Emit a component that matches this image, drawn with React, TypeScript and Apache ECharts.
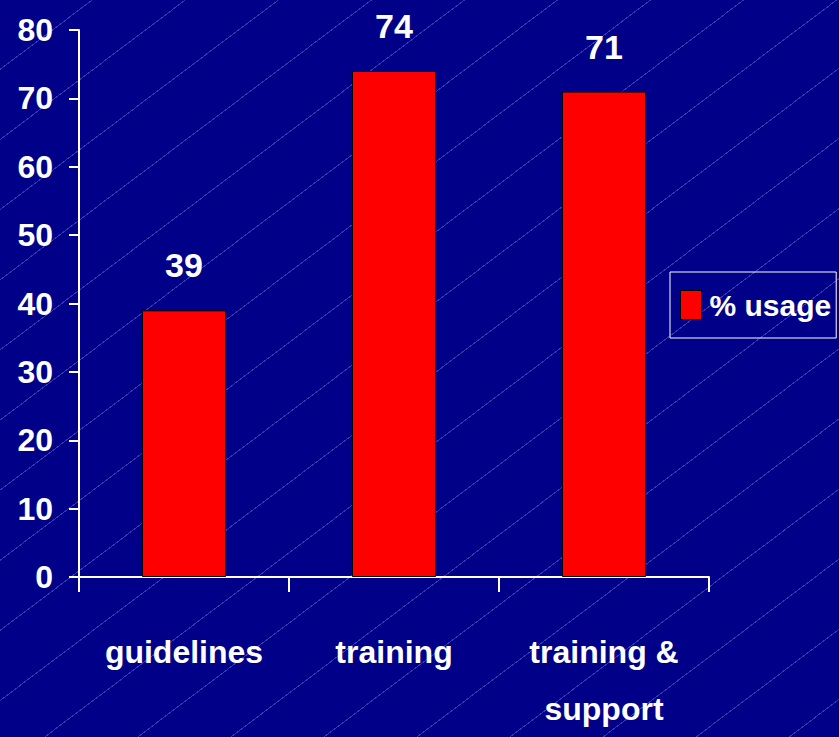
import React, { useEffect, useRef } from "react";
import * as echarts from "echarts";

const categories = ["guidelines", "training", "training &\nsupport"];
const usageValues = [39, 74, 71];
const seriesName = "% usage";
const yTicks = { min: 0, max: 80, interval: 10 };

const FONT = '"Liberation Sans", Arial, sans-serif';

export default function App() {
  const ref = useRef<HTMLDivElement>(null);
  useEffect(() => {
    if (!ref.current) return;
    const chart = echarts.init(ref.current, undefined, { renderer: "svg" });
    chart.setOption({
      animation: false,
      backgroundColor: "transparent",
      grid: { left: 79, right: 130, top: 30, bottom: 155, containLabel: false },
      legend: {
        show: true,
        data: [seriesName],
        left: 670,
        top: 272,
        orient: "vertical",
        borderColor: "#ffffff",
        borderWidth: 1,
        padding: [16, 5, 16, 10],
        itemWidth: 21,
        itemHeight: 29,
        icon: "rect",
        itemStyle: { color: "#ff0000", borderColor: "#000000", borderWidth: 1 },
        textStyle: {
          color: "#ffffff",
          fontFamily: FONT,
          fontWeight: "bold",
          fontSize: 30,
          lineHeight: 34,
          padding: [0, 0, 0, 3],
        },
      },
      xAxis: {
        type: "category",
        data: categories,
        boundaryGap: true,
        axisLine: { show: true, lineStyle: { color: "#ffffff", width: 2 } },
        axisTick: { show: true, alignWithLabel: false, length: 15, lineStyle: { color: "#ffffff", width: 2 } },
        axisLabel: {
          color: "#ffffff",
          fontFamily: FONT,
          fontWeight: "bold",
          fontSize: 32,
          lineHeight: 57,
          margin: 46,
          interval: 0,
        },
        splitLine: { show: false },
      },
      yAxis: {
        type: "value",
        min: yTicks.min,
        max: yTicks.max,
        interval: yTicks.interval,
        axisLine: { show: true, lineStyle: { color: "#ffffff", width: 2 } },
        axisTick: { show: true, length: 10, lineStyle: { color: "#ffffff", width: 2 } },
        axisLabel: {
          color: "#ffffff",
          fontFamily: FONT,
          fontWeight: "bold",
          fontSize: 32,
          margin: 26,
        },
        splitLine: { show: false },
      },
      series: [
        {
          name: seriesName,
          type: "bar",
          data: usageValues,
          barWidth: "40%",
          itemStyle: { color: "#ff0000", borderColor: "#000000", borderWidth: 1 },
          label: {
            show: true,
            position: "top",
            distance: 28,
            color: "#ffffff",
            fontFamily: FONT,
            fontWeight: "bold",
            fontSize: 34,
          },
        },
      ],
    });
    return () => chart.dispose();
  }, []);

  return (
    <div
      style={{
        position: "fixed",
        left: 0,
        top: 0,
        width: 839,
        height: 737,
        backgroundColor: "#000088",
        backgroundImage:
          "repeating-linear-gradient(143deg, transparent 0px, transparent 55px, rgba(140,140,230,0.4) 55px, rgba(140,140,230,0.4) 56px)",
      }}
    >
      <div ref={ref} style={{ width: 839, height: 737 }} />
    </div>
  );
}
